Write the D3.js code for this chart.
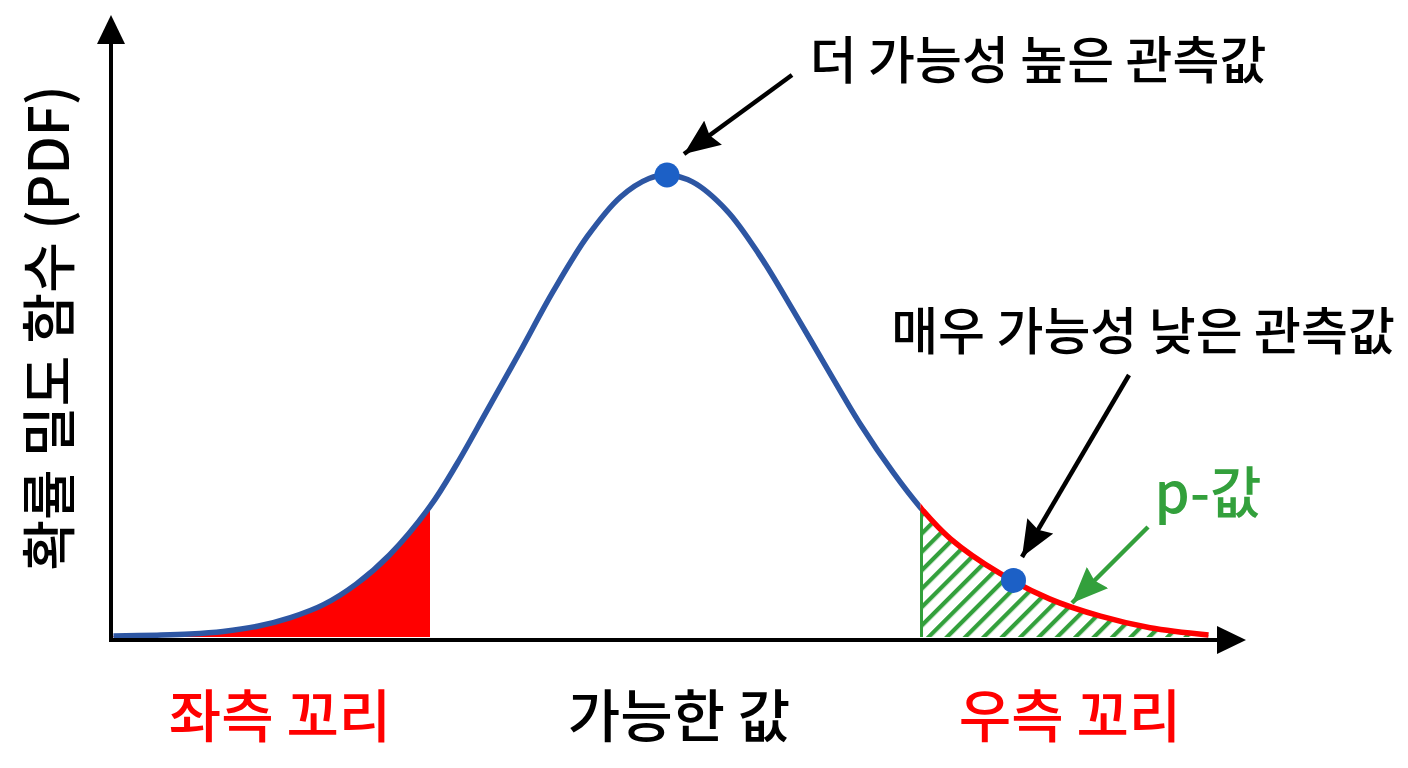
<!DOCTYPE html>
<html>
<head>
<meta charset="utf-8">
<script src="https://cdn.jsdelivr.net/npm/d3@7/dist/d3.min.js"></script>
<style>
  html, body { margin: 0; padding: 0; background: #fff; }
  svg { display: block; }
  text { font-family: "Noto Sans CJK KR", "Noto Sans", sans-serif; }
</style>
</head>
<body>
<svg id="chart" width="1408" height="768"></svg>
<script>
// ---- Data ----
const curveX = [-3.69, -3.40, -3.18, -2.96, -2.73, -2.51, -2.29, -2.07, -1.85, -1.58,
                -1.40, -1.20, -0.98, -0.76, -0.53, -0.31, -0.12, 0.00, 0.17, 0.40,
                0.62, 0.84, 1.07, 1.29, 1.51, 1.69, 1.89, 2.22, 2.55, 2.89, 3.22, 3.61];
const curveDensity = [0.0009, 0.0016, 0.0026, 0.0048, 0.0093, 0.0168, 0.028, 0.046, 0.071, 0.113,
                      0.150, 0.196, 0.247, 0.299, 0.347, 0.381, 0.397, 0.400, 0.394, 0.369,
                      0.330, 0.283, 0.232, 0.184, 0.142, 0.112, 0.085, 0.055, 0.033, 0.018, 0.008, 0.0017];
const leftCutoff = -1.58;
const rightCutoff = 1.69;
const pointX = [0.00, 2.31];
const pointDensity = [0.400, 0.049];
const labels = {
  yAxis: "확률 밀도 함수 (PDF)",
  xAxis: "가능한 값",
  leftTail: "좌측 꼬리",
  rightTail: "우측 꼬리",
  likely: "더 가능성 높은 관측값",
  unlikely: "매우 가능성 낮은 관측값",
  pValue: "p-값"
};

// ---- Setup ----
const svg = d3.select("#chart");
const x = d3.scaleLinear().domain([-4, 4]).range([67, 1267]);
const y = d3.scaleLinear().domain([0, 0.4]).range([637, 175]);
const data = curveX.map((v, i) => ({x: v, d: curveDensity[i]}));

const BLUE = "#2d56a3", RED = "#ff0000", GREEN = "#33a03c", DOT = "#1c60c6";
const axisY = 640, axisX0 = 111;

const defs = svg.append("defs");
const pat = defs.append("pattern")
  .attr("id", "hatch").attr("patternUnits", "userSpaceOnUse")
  .attr("width", 13).attr("height", 13)
  .attr("patternTransform", "rotate(45)");
pat.append("line").attr("x1", 2).attr("y1", -1).attr("x2", 2).attr("y2", 14)
  .attr("stroke", GREEN).attr("stroke-width", 4.5);

defs.append("clipPath").attr("id", "clipLeft").append("rect")
  .attr("x", 0).attr("y", 0).attr("width", x(leftCutoff)).attr("height", 768);
defs.append("clipPath").attr("id", "clipRight").append("rect")
  .attr("x", x(rightCutoff)).attr("y", 0).attr("width", 1408 - x(rightCutoff)).attr("height", 768);
defs.append("clipPath").attr("id", "clipMain").append("rect")
  .attr("x", 0).attr("y", 0).attr("width", x(rightCutoff)).attr("height", 768);

function arrowMarker(id, color, w, h) {
  const m = defs.append("marker").attr("id", id)
    .attr("viewBox", `0 0 ${w} ${h}`).attr("refX", w).attr("refY", h / 2)
    .attr("markerWidth", w).attr("markerHeight", h)
    .attr("markerUnits", "userSpaceOnUse").attr("orient", "auto");
  m.append("path").attr("d", `M0,0 L${w},${h/2} L0,${h} L${w*0.12},${h/2} Z`).attr("fill", color);
}
arrowMarker("arrBlack", "#000", 36, 30);
arrowMarker("arrGreen", GREEN, 36, 30);

const curve = d3.curveCatmullRom.alpha(0.5);
const area = d3.area().x(p => x(p.x)).y0(y(0)).y1(p => y(p.d)).curve(curve);
const line = d3.line().x(p => x(p.x)).y(p => y(p.d)).curve(curve);

// left tail fill
svg.append("path").datum(data).attr("d", area)
  .attr("fill", RED).attr("clip-path", "url(#clipLeft)");
// right tail hatch
svg.append("path").datum(data).attr("d", area)
  .attr("fill", "url(#hatch)").attr("clip-path", "url(#clipRight)");
// vertical green edge at right cutoff
svg.append("line")
  .attr("x1", x(rightCutoff) + 1).attr("x2", x(rightCutoff) + 1)
  .attr("y1", y(0)).attr("y2", y(curveDensity[curveX.indexOf(rightCutoff)]))
  .attr("stroke", GREEN).attr("stroke-width", 3);

// curve lines
svg.append("path").datum(data).attr("d", line)
  .attr("fill", "none").attr("stroke", BLUE).attr("stroke-width", 5.5)
  .attr("clip-path", "url(#clipMain)");
svg.append("path").datum(data).attr("d", line)
  .attr("fill", "none").attr("stroke", RED).attr("stroke-width", 5.5)
  .attr("clip-path", "url(#clipRight)");

// axes
const axY = svg.append("g");
axY.append("line").attr("x1", axisX0).attr("x2", axisX0).attr("y1", axisY + 2).attr("y2", 40)
  .attr("stroke", "#000").attr("stroke-width", 4);
axY.append("path").attr("d", `M${axisX0},15 L${axisX0 + 14},44 L${axisX0 - 14},44 Z`).attr("fill", "#000");
const axX = svg.append("g");
axX.append("line").attr("x1", axisX0 - 2).attr("x2", 1222).attr("y1", axisY).attr("y2", axisY)
  .attr("stroke", "#000").attr("stroke-width", 4);
axX.append("path").attr("d", `M1246,${axisY} L1217,${axisY - 14} L1217,${axisY + 14} Z`).attr("fill", "#000");

// points
svg.selectAll("circle.pt").data(pointX.map((v, i) => ({x: v, d: pointDensity[i]})))
  .enter().append("circle").attr("class", "pt")
  .attr("cx", p => x(p.x)).attr("cy", p => y(p.d)).attr("r", 12.5)
  .attr("fill", DOT);

// annotation arrows
svg.append("line").attr("x1", 792).attr("y1", 75).attr("x2", 684).attr("y2", 154)
  .attr("stroke", "#000").attr("stroke-width", 4.5).attr("marker-end", "url(#arrBlack)");
svg.append("line").attr("x1", 1129).attr("y1", 375).attr("x2", 1022).attr("y2", 557)
  .attr("stroke", "#000").attr("stroke-width", 4.5).attr("marker-end", "url(#arrBlack)");
svg.append("line").attr("x1", 1148).attr("y1", 527).attr("x2", 1072).attr("y2", 603)
  .attr("stroke", GREEN).attr("stroke-width", 4.5).attr("marker-end", "url(#arrGreen)");

// texts
function txt(s, cx, cy, color, size, rot) {
  const t = svg.append("text").text(s)
    .attr("x", cx).attr("y", cy)
    .attr("text-anchor", "middle").attr("dominant-baseline", "central")
    .attr("fill", color).attr("font-size", size).attr("font-weight", 500);
  if (rot) t.attr("transform", `rotate(${rot},${cx},${cy})`);
  return t;
}
txt(labels.likely, 1038, 57, "#000", 51);
txt(labels.unlikely, 1143, 328, "#000", 51);
txt(labels.pValue, 1208, 488, GREEN, 56);
txt(labels.leftTail, 280, 712, RED, 57);
txt(labels.xAxis, 679, 712, "#000", 57);
txt(labels.rightTail, 1070, 712, RED, 57);
txt(labels.yAxis, 45, 328, "#000", 55, -90);
</script>
</body>
</html>
